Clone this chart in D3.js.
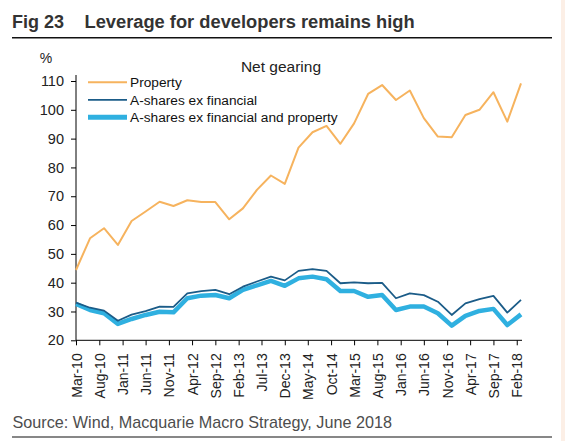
<!DOCTYPE html>
<html>
<head>
<meta charset="utf-8">
<script src="https://cdn.jsdelivr.net/npm/d3@7"></script>
<style>
  html, body { margin: 0; padding: 0; background: #ffffff; }
  svg { display: block; font-family: "Liberation Sans", Arial, sans-serif; }
</style>
</head>
<body>
<svg id="chart" width="565" height="441"></svg>
<script>
// Quarterly observations, Mar-10 .. Mar-18
const startYear = 2010, startMonth = 2; // March (0-based)
const property = [44.4, 55.4, 58.9, 53.1, 61.4, 64.7, 68.1, 66.6, 68.6, 68.0, 68.0, 62.0, 65.8, 72.2, 77.2, 74.3,
  86.9, 92.2, 94.4, 88.2, 95.3, 105.5, 108.6, 103.4, 106.7, 97.1, 90.7, 90.5, 98.2, 100.0, 106.1, 95.9, 109.2];
const exFinancial = [33.1, 31.3, 30.3, 26.8, 28.9, 30.1, 31.7, 31.6, 36.3, 37.1, 37.5, 36.0, 38.6, 40.4, 42.1, 40.8,
  44.1, 44.7, 44.1, 39.8, 40.1, 39.8, 39.9, 34.6, 36.3, 35.7, 33.4, 28.8, 32.8, 34.3, 35.4, 29.6, 34.0];
const exFinProperty = [32.6, 30.5, 29.4, 25.7, 27.4, 28.8, 29.9, 29.7, 34.6, 35.5, 35.7, 34.6, 37.5, 39.1, 40.6, 38.9,
  41.5, 42.1, 41.2, 37.1, 37.1, 35.1, 35.7, 30.5, 31.7, 31.7, 29.4, 25.1, 28.5, 30.2, 30.9, 25.3, 29.0];
const yTicks = [20, 30, 40, 50, 60, 70, 80, 90, 100, 110];
const xTickLabels = ["Mar-10","Aug-10","Jan-11","Jun-11","Nov-11","Apr-12","Sep-12","Feb-13","Jul-13","Dec-13",
  "May-14","Oct-14","Mar-15","Aug-15","Jan-16","Jun-16","Nov-16","Apr-17","Sep-17","Feb-18"];
const seriesNames = ["Property", "A-shares ex financial", "A-shares ex financial and property"];

const dates = property.map((_, i) => new Date(Date.UTC(startYear, startMonth + 3 * i, 1)));
const tickDates = xTickLabels.map((_, i) => new Date(Date.UTC(startYear, startMonth + 5 * i, 1)));
const fmt = d3.utcFormat("%b-%y");

const svg = d3.select("#chart");
const font = "'Liberation Sans', Arial, sans-serif";

// pale right border strip
svg.append("rect").attr("x", 561).attr("y", 0).attr("width", 4).attr("height", 441).attr("fill", "#fcefe6");

// Title
svg.append("text").attr("x", 12).attr("y", 28).attr("font-size", 18).attr("font-weight", "bold")
  .attr("fill", "#333").text("Fig 23");
svg.append("text").attr("x", 84.5).attr("y", 28).attr("font-size", 18.3).attr("font-weight", "bold")
  .attr("fill", "#333").text("Leverage for developers remains high");
svg.append("line").attr("x1", 12).attr("x2", 552).attr("y1", 37.8).attr("y2", 37.8)
  .attr("stroke", "#111").attr("stroke-width", 1.5);

// Scales
const x = d3.scaleUtc().domain([dates[0], dates[dates.length - 1]]).range([76, 521]);
const y = d3.scaleLinear().domain([20, 110]).range([340.3, 81]);

// Axes
const yAxis = svg.append("g").attr("transform", "translate(76,0)")
  .call(d3.axisLeft(y).tickValues(yTicks).tickSize(5).tickPadding(7).tickSizeOuter(0));
yAxis.select(".domain").attr("stroke", "#000").attr("d", `M0,${y(110) - 6}V${y(20)}`);
yAxis.selectAll(".tick line").attr("stroke", "#000");
yAxis.selectAll(".tick text").attr("font-size", 14.5).attr("font-family", font).attr("fill", "#222");

const xAxis = svg.append("g").attr("transform", `translate(0,${y(20)})`)
  .call(d3.axisBottom(x).tickValues(tickDates).tickFormat(fmt).tickSize(5).tickSizeOuter(0));
xAxis.select(".domain").attr("stroke", "#000").attr("d", `M76,0H522`);
xAxis.selectAll(".tick line").attr("stroke", "#000");
xAxis.selectAll(".tick text").attr("font-size", 14).attr("font-family", font).attr("fill", "#222")
  .attr("text-anchor", "end").attr("transform", "rotate(-90)")
  .attr("x", -13).attr("y", 0).attr("dy", "0.36em");

// Labels
svg.append("text").attr("x", 46).attr("y", 63).attr("text-anchor", "middle").attr("font-size", 14)
  .attr("fill", "#222").text("%");
svg.append("text").attr("x", 281).attr("y", 72).attr("text-anchor", "middle").attr("font-size", 15.5)
  .attr("fill", "#222").text("Net gearing");

// Lines
const line = d3.line().x((d, i) => x(dates[i])).y(d => y(d));
const colors = ["#f6b35e", "#1b5c88", "#2fb0e0"];
const widths = [2, 1.8, 4.5];
svg.append("path").datum(exFinProperty).attr("d", line).attr("fill", "none")
  .attr("stroke", colors[2]).attr("stroke-width", widths[2]).attr("stroke-linejoin", "round");
svg.append("path").datum(exFinancial).attr("d", line).attr("fill", "none")
  .attr("stroke", colors[1]).attr("stroke-width", widths[1]).attr("stroke-linejoin", "round");
svg.append("path").datum(property).attr("d", line).attr("fill", "none")
  .attr("stroke", colors[0]).attr("stroke-width", widths[0]).attr("stroke-linejoin", "round");

// Legend
const legend = svg.append("g");
seriesNames.forEach((name, i) => {
  const ly = 82.3 + i * 17.5;
  legend.append("line").attr("x1", 88).attr("x2", 127).attr("y1", ly).attr("y2", ly)
    .attr("stroke", colors[i]).attr("stroke-width", widths[i] + (i === 2 ? 0.5 : 0));
  legend.append("text").attr("x", 130).attr("y", ly).attr("dy", "0.36em").attr("font-size", 13.7)
    .attr("fill", "#111").text(name);
});

// Source
svg.append("text").attr("x", 12.5).attr("y", 428).attr("font-size", 16.2).attr("fill", "#4d4d4d")
  .text("Source: Wind, Macquarie Macro Strategy, June 2018");
svg.append("line").attr("x1", 12).attr("x2", 552).attr("y1", 437).attr("y2", 437)
  .attr("stroke", "#111").attr("stroke-width", 1.2);
</script>
</body>
</html>
